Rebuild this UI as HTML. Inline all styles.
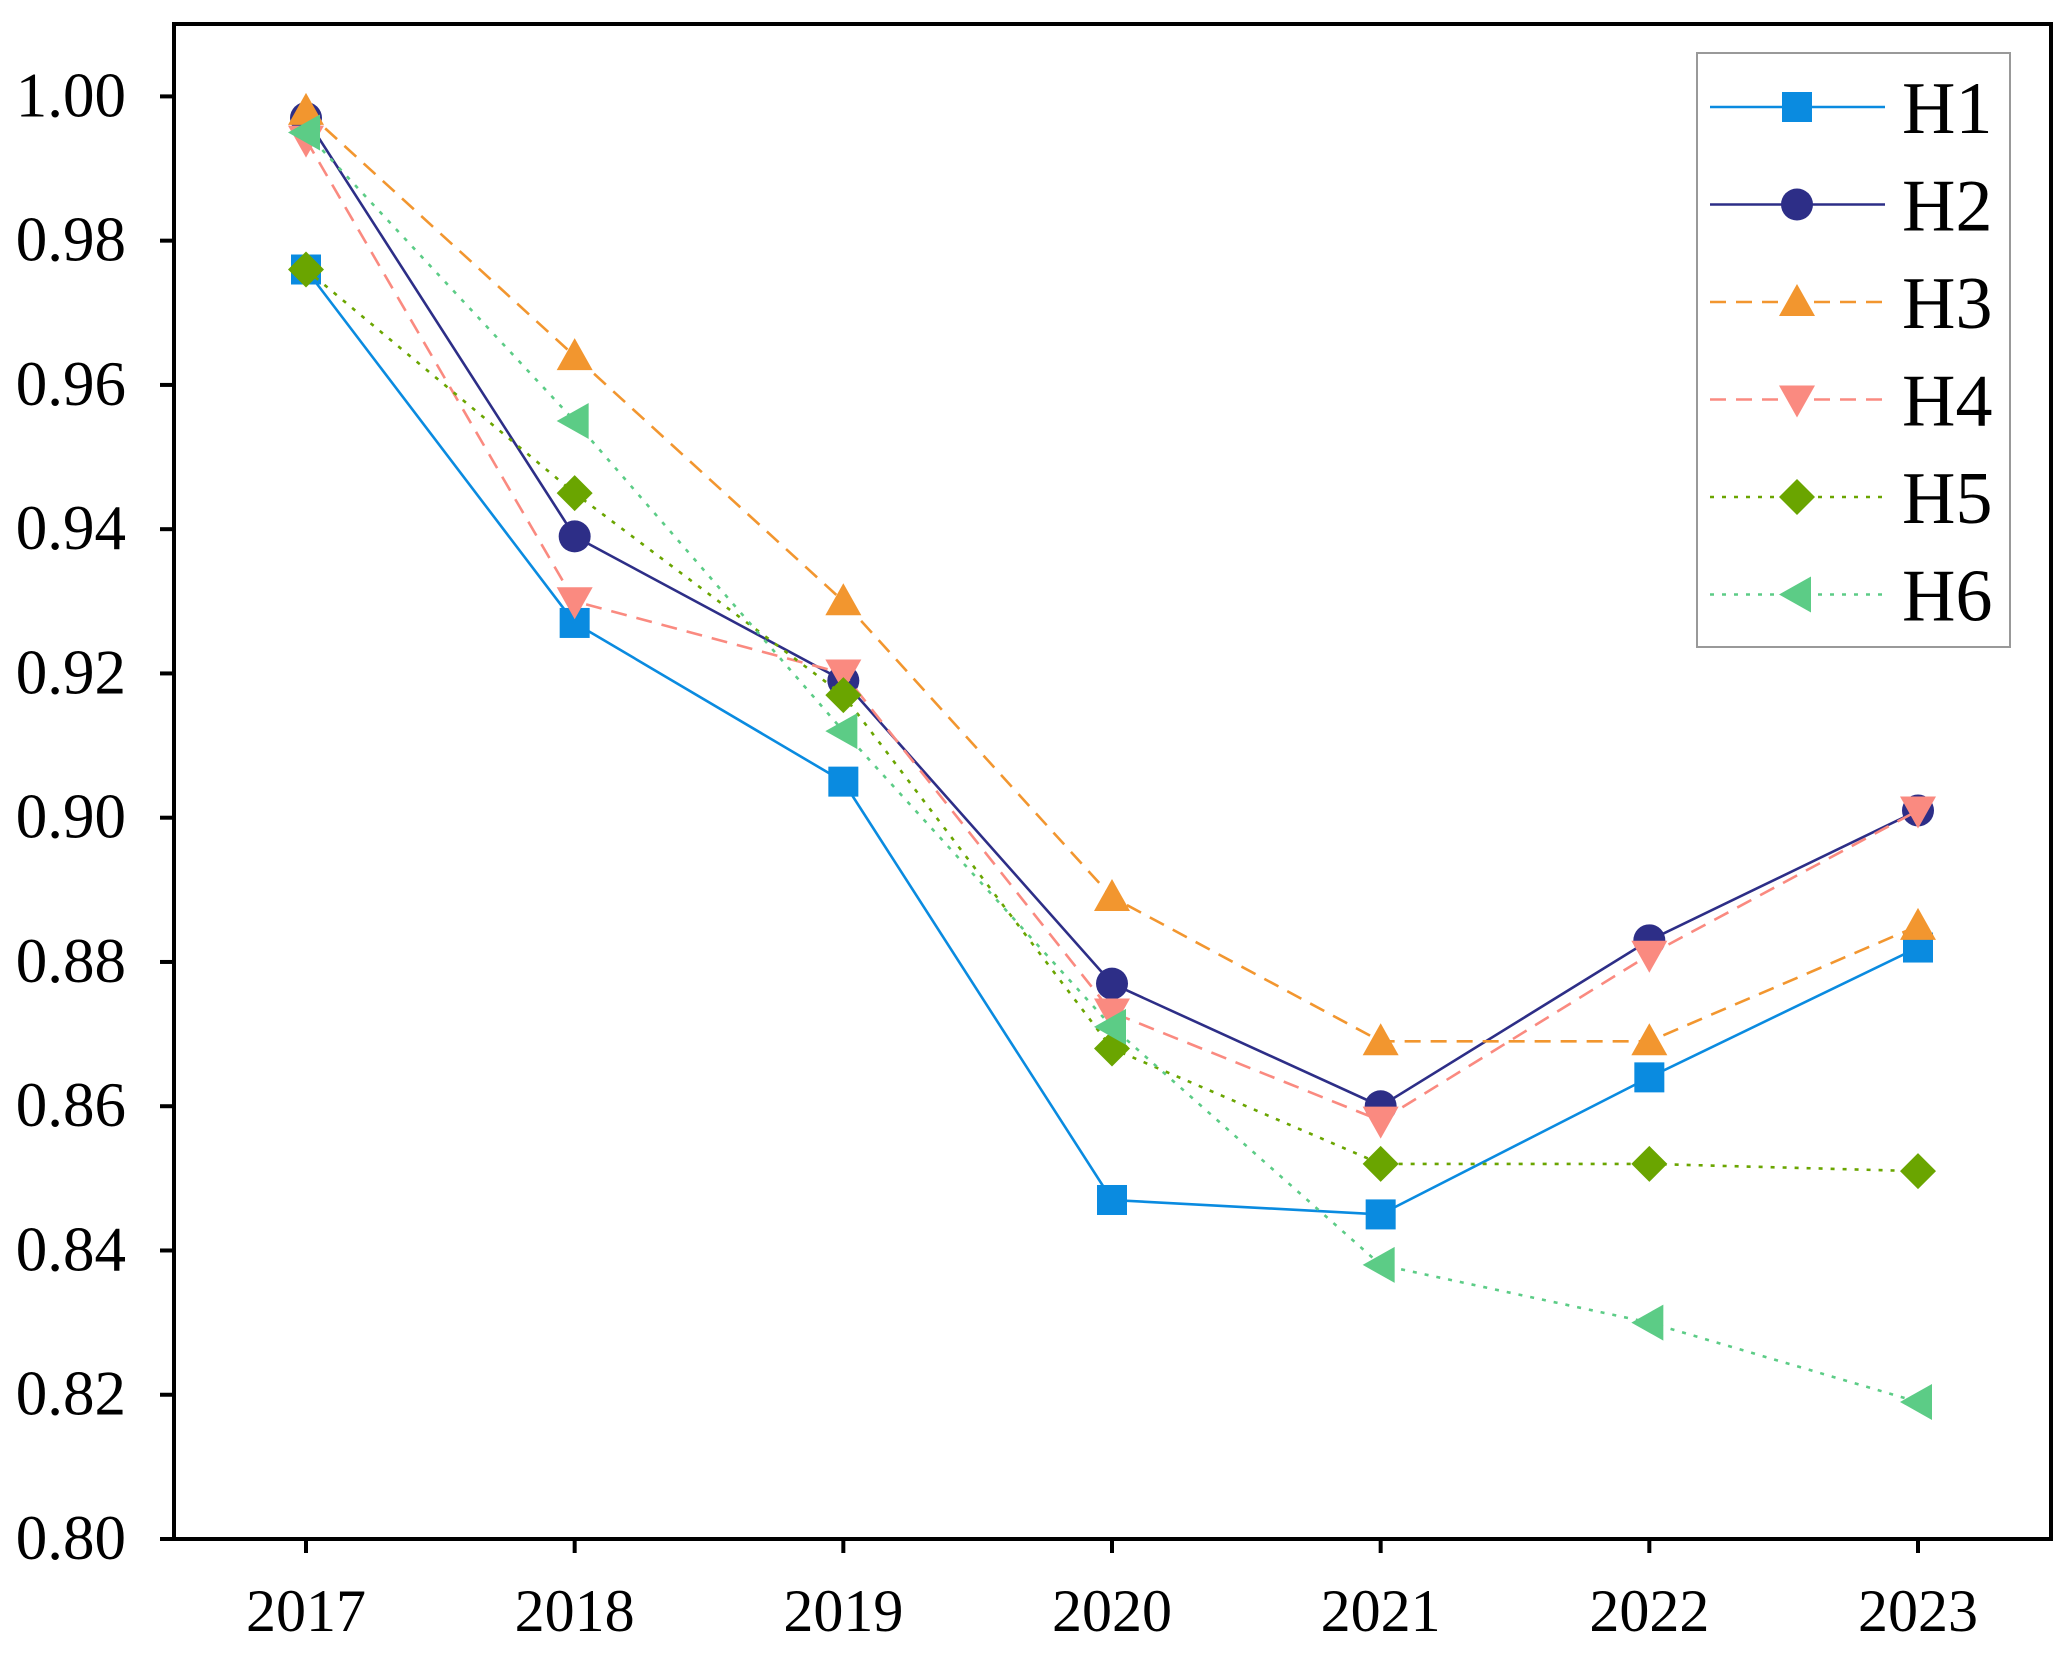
<!DOCTYPE html>
<html><head><meta charset="utf-8"><style>
html,body{margin:0;padding:0;background:#fff;}
svg{display:block;}
svg text{font-family:"Liberation Serif","Times New Roman",serif;}
</style></head><body>
<svg id="chart" width="2071" height="1653" viewBox="0 0 2071 1653" xmlns="http://www.w3.org/2000/svg"></svg>
<script>
const years = ["2017","2018","2019","2020","2021","2022","2023"];
const yTicks = [0.80,0.82,0.84,0.86,0.88,0.90,0.92,0.94,0.96,0.98,1.00];
const h1 = [0.976,0.927,0.905,0.847,0.845,0.864,0.882];
const h2 = [0.997,0.939,0.919,0.877,0.860,0.883,0.901];
const h3 = [0.998,0.964,0.930,0.889,0.869,0.869,0.885];
const h4 = [0.994,0.930,0.920,0.873,0.858,0.881,0.901];
const h5 = [0.976,0.945,0.917,0.868,0.852,0.852,0.851];
const h6 = [0.995,0.955,0.912,0.871,0.838,0.830,0.819];
const seriesNames = ["H1","H2","H3","H4","H5","H6"];

const NS="http://www.w3.org/2000/svg";
const svg=document.getElementById('chart');
const L=174,T=24,R=2051,B=1539;
const y0=0.80,y1=1.00,yTop=96.4;
function yS(v){return B-(v-y0)/(y1-y0)*(B-yTop);}
function xS(i){return 306+i*(1918-306)/(years.length-1);}
function mk(tag,attrs,parent){const e=document.createElementNS(NS,tag);for(const k in attrs)e.setAttribute(k,attrs[k]);(parent||svg).appendChild(e);return e;}
const FF='"Liberation Serif","Times New Roman",serif';

const frame=mk('rect',{x:L,y:T,width:R-L,height:B-T,fill:'none',stroke:'#000','stroke-width':4});



yTicks.forEach(v=>{
  const y=yS(v);
  const t=mk('line',{x1:L-14,x2:L,y1:y,y2:y,stroke:'#000','stroke-width':4});
  
  
  const lb=mk('text',{x:L-48,y:y+20,'text-anchor':'end','font-size':63,fill:'#000','font-family':FF});
  lb.textContent=v.toFixed(2);
  
  
});
years.forEach((yr,i)=>{
  const x=xS(i);
  const t=mk('line',{x1:x,x2:x,y1:B,y2:B+14,stroke:'#000','stroke-width':4});
  
  
  const lb=mk('text',{x:x,y:B+92,'text-anchor':'middle','font-size':60,fill:'#000','font-family':FF});
  lb.textContent=yr;
  
  
});

const styles=[
 {c:'#0a8be0',d:'',m:'square'},
 {c:'#2d2e87',d:'',m:'circle'},
 {c:'#f2962f',d:'16 10',m:'up'},
 {c:'#fa8a80',d:'16 10',m:'down'},
 {c:'#6aa500',d:'4 8',m:'diamond'},
 {c:'#5ccc86',d:'4 8',m:'left'}];
function marker(g,type,x,y,c){
  const s=16;let e;
  if(type==='square')e=mk('rect',{x:x-s+1,y:y-s+1,width:2*s-2,height:2*s-2,fill:c},g);
  else if(type==='circle')e=mk('circle',{cx:x,cy:y,r:s,fill:c},g);
  else{let p;
    if(type==='up')p=[[x,y-s-2],[x+s+2,y+s-2],[x-s-2,y+s-2]];
    if(type==='down')p=[[x,y+s+2],[x+s+2,y-s+2],[x-s-2,y-s+2]];
    if(type==='diamond')p=[[x,y-s-2],[x+s+2,y],[x,y+s+2],[x-s-2,y]];
    if(type==='left')p=[[x-s-2,y],[x+s-2,y-s-2],[x+s-2,y+s+2]];
    e=mk('polygon',{points:p.map(q=>q.join(',')).join(' '),fill:c},g);}
  return e;
}
const data=[h1,h2,h3,h4,h5,h6];
data.forEach((arr,si)=>{
  const st=styles[si];
  const g=mk('g',{});
  
  
  const ln=mk('polyline',{points:arr.map((v,i)=>xS(i)+','+yS(v)).join(' '),fill:'none',stroke:st.c,'stroke-width':2.6,'stroke-dasharray':st.d},g);
  
  
  arr.forEach((v,i)=>{
    const m=marker(g,st.m,xS(i),yS(v),st.c);
    
    
  });
});

const lg=mk('g',{});


mk('rect',{x:1697,y:53,width:313,height:594,fill:'#fff',stroke:'#999','stroke-width':2},lg);
seriesNames.forEach((n,i)=>{
  const st=styles[i];const y=107+i*97.5;
  const e=mk('g',{},lg);
  
  
  mk('line',{x1:1710,x2:1885,y1:y,y2:y,stroke:st.c,'stroke-width':2.6,'stroke-dasharray':st.d},e);
  marker(e,st.m,1797,y,st.c);
  const t=mk('text',{x:1902,y:y+26,'font-size':74,fill:'#000','font-family':FF},e);
  t.textContent=n;
});
</script>
</body></html>
